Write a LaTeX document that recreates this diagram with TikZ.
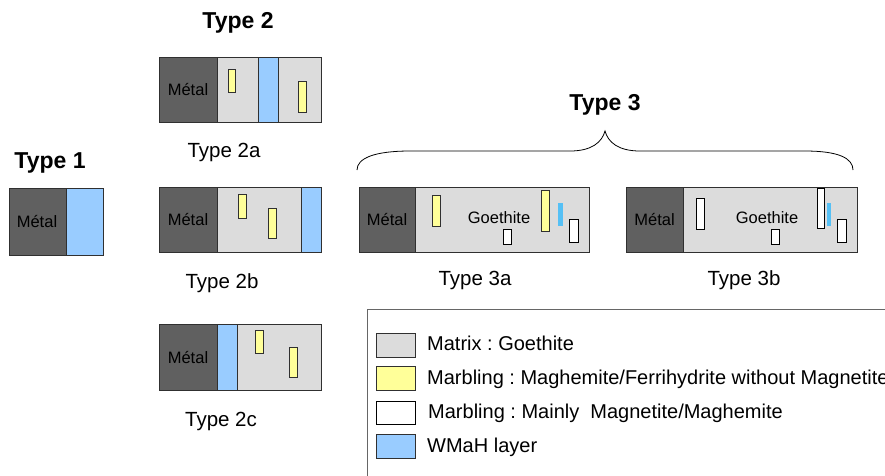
\documentclass[tikz,border=0pt]{standalone}
\usepackage{fontspec}
\setmainfont{Liberation Sans}
\frenchspacing
\definecolor{metalc}{HTML}{606060}
\definecolor{matrixc}{HTML}{DCDCDC}
\definecolor{wmahc}{HTML}{99CCFF}
\definecolor{yelc}{HTML}{FFFF99}
\definecolor{thinbl}{HTML}{55C0F5}
\definecolor{edgec}{HTML}{303030}
\definecolor{legedge}{HTML}{666666}
\begin{document}
\begin{tikzpicture}[x=1pt,y=-1pt,
  metal/.style={fill=metalc,draw=edgec,line width=0.8pt},
  matrix/.style={fill=matrixc,draw=edgec,line width=0.8pt},
  wmah/.style={fill=wmahc,draw=edgec,line width=0.8pt},
  yel/.style={fill=yelc,draw=edgec,line width=0.8pt},
  wht/.style={fill=white,draw=black,line width=0.8pt},
  thin blue/.style={fill=thinbl,draw=none},
  lbl/.style={font=\fontsize{20.5}{24}\selectfont,anchor=base,inner sep=0pt},
  ttl/.style={font=\bfseries\fontsize{23}{27}\selectfont,anchor=base,inner sep=0pt},
  met/.style={font=\fontsize{16.5}{19}\selectfont,inner sep=0pt},
  leg/.style={font=\fontsize{20}{24}\selectfont,anchor=base west,inner sep=0pt},
  legbox/.style={draw=legedge,line width=0.9pt}]
\useasboundingbox (0,0) rectangle (885,475);
\clip (0,0) rectangle (885,475);

% ---------- Type 1
\node[ttl] (t1) at (50,168) {Type 1};
\path[metal] (9,188) rectangle (66,255);
\path[wmah] (66,188) rectangle (103,255);
\node[met] (m1) at (37,221.5) {Métal};

% ---------- Type 2
\node[ttl] (t2) at (238,28.5) {Type 2};
% 2a
\path[matrix] (159,57) rectangle (321,122);
\path[metal] (159,57) rectangle (217,122);
\path[wmah] (258,57) rectangle (278,122);
\path[yel] (228,69) rectangle (235,92);
\path[yel] (298,81) rectangle (306,112);
\node[met] (m2a) at (188,89.5) {Métal};
\node[lbl] (l2a) at (224,157) {Type 2a};
% 2b
\path[matrix] (159,187) rectangle (321,252);
\path[metal] (159,187) rectangle (217,252);
\path[wmah] (301,187) rectangle (321,252);
\path[yel] (238,194) rectangle (246,218);
\path[yel] (268,208) rectangle (276,238);
\node[met] (m2b) at (188,219.5) {Métal};
\node[lbl] (l2b) at (222,288) {Type 2b};
% 2c
\path[matrix] (159,324) rectangle (321,390);
\path[metal] (159,324) rectangle (217,390);
\path[wmah] (217,324) rectangle (237,390);
\path[yel] (255,330) rectangle (263,353);
\path[yel] (289,347) rectangle (297,377);
\node[met] (m2c) at (188,357) {Métal};
\node[lbl] (l2c) at (221,426) {Type 2c};

% ---------- Type 3
\node[ttl] (t3) at (605,110) {Type 3};
\draw[line width=0.8pt,black]
  (357,170) .. controls (357,158) and (375,151) .. (410,151)
  -- (570,151) .. controls (592,151) and (602,142) .. (605,131)
  .. controls (608,142) and (618,151) .. (640,151)
  -- (805,151) .. controls (838,151) and (853,158) .. (853,170);
% 3a
\path[matrix] (359,187) rectangle (589,252);
\path[metal] (359,187) rectangle (415,252);
\path[yel] (432,195) rectangle (440,226);
\path[yel] (541,190) rectangle (549,231);
\path[thin blue] (558,203) rectangle (563,226);
\path[wht] (503,229) rectangle (511,244);
\path[wht] (569,219) rectangle (578,242);
\node[met] (m3a) at (387,219.5) {Métal};
\node[met] (g3a) at (499,218) {Goethite};
\node[lbl] (l3a) at (475,285) {Type 3a};
% 3b
\path[matrix] (626,187) rectangle (857,252);
\path[metal] (626,187) rectangle (683,252);
\path[wht] (696,198) rectangle (704,229);
\path[wht] (771,229) rectangle (779,244);
\path[wht] (817,188) rectangle (824,228);
\path[thin blue] (827,203) rectangle (831,226);
\path[wht] (837,219) rectangle (846,242);
\node[met] (m3b) at (654.5,219.5) {Métal};
\node[met] (g3b) at (767,218) {Goethite};
\node[lbl] (l3b) at (744,285) {Type 3b};

% ---------- Legend
\path[legbox] (367,309) rectangle (900,490);
\path[matrix] (376,333) rectangle (415,357);
\path[yel] (376,366) rectangle (415,390);
\path[wht] (376,401) rectangle (415,424);
\path[wmah] (376,434) rectangle (415,458);
\node[leg] (lg1) at (427,350) {Matrix : Goethite};
\node[leg] (lg2) at (427,384) {Marbling : Maghemite/Ferrihydrite without Magnetite};
\node[leg] (lg3) at (428,418) {Marbling : Mainly~ Magnetite/Maghemite};
\node[leg] (lg4) at (427,452) {WMaH layer};
\end{tikzpicture}
\end{document}
